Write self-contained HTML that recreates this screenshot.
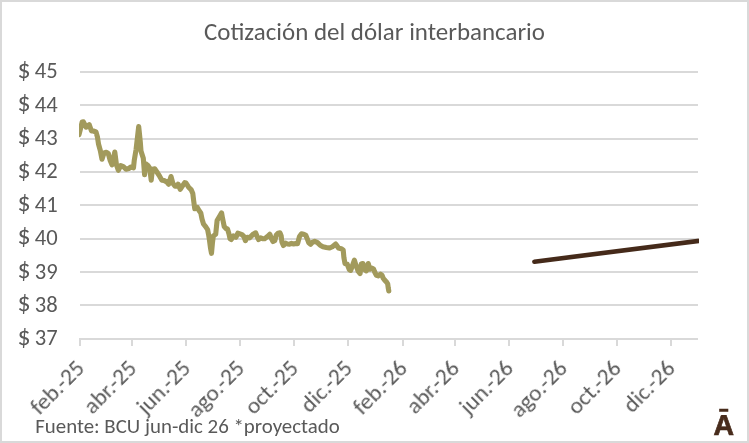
<!DOCTYPE html>
<html><head><meta charset="utf-8"><style>
html,body{margin:0;padding:0;background:#fff;}
body{width:749px;height:443px;overflow:hidden;}
svg{display:block;}
text{font-family:"Carlito","Liberation Sans",sans-serif;fill:#595959;}
text{will-change:transform;}
</style></head><body>
<svg width="749" height="443" viewBox="0 0 749 443">
<rect x="0" y="0" width="749" height="443" fill="#fff"/>
<rect x="1" y="1" width="747" height="441" fill="none" stroke="#d9d9d9" stroke-width="2"/>
<text x="204" y="39.5" font-size="25" textLength="341" lengthAdjust="spacingAndGlyphs">Cotización del dólar interbancario</text>
<g stroke="#d9d9d9" stroke-width="2" fill="none">
<line x1="80" y1="72" x2="698" y2="72"/><line x1="80" y1="105" x2="698" y2="105"/><line x1="80" y1="139" x2="698" y2="139"/><line x1="80" y1="172" x2="698" y2="172"/><line x1="80" y1="205" x2="698" y2="205"/><line x1="80" y1="239" x2="698" y2="239"/><line x1="80" y1="272" x2="698" y2="272"/><line x1="80" y1="305" x2="698" y2="305"/>
<path d="M80 346 V339 H698"/>
<line x1="80" y1="339" x2="80" y2="346"/><line x1="132" y1="339" x2="132" y2="346"/><line x1="186" y1="339" x2="186" y2="346"/><line x1="240" y1="339" x2="240" y2="346"/><line x1="294" y1="339" x2="294" y2="346"/><line x1="348" y1="339" x2="348" y2="346"/><line x1="403" y1="339" x2="403" y2="346"/><line x1="455" y1="339" x2="455" y2="346"/><line x1="509" y1="339" x2="509" y2="346"/><line x1="563" y1="339" x2="563" y2="346"/><line x1="617" y1="339" x2="617" y2="346"/><line x1="671" y1="339" x2="671" y2="346"/>
</g>
<g font-size="22.6">
<text><tspan x="17.5" y="77.60" font-size="25.8">$</tspan><tspan x="57.6" y="78.30" text-anchor="end" textLength="28.02" lengthAdjust="spacingAndGlyphs"> 45</tspan></text><text><tspan x="17.5" y="110.97" font-size="25.8">$</tspan><tspan x="57.6" y="111.67" text-anchor="end" textLength="28.02" lengthAdjust="spacingAndGlyphs"> 44</tspan></text><text><tspan x="17.5" y="144.35" font-size="25.8">$</tspan><tspan x="57.6" y="145.05" text-anchor="end" textLength="28.02" lengthAdjust="spacingAndGlyphs"> 43</tspan></text><text><tspan x="17.5" y="177.73" font-size="25.8">$</tspan><tspan x="57.6" y="178.43" text-anchor="end" textLength="28.02" lengthAdjust="spacingAndGlyphs"> 42</tspan></text><text><tspan x="17.5" y="211.10" font-size="25.8">$</tspan><tspan x="57.6" y="211.80" text-anchor="end" textLength="28.02" lengthAdjust="spacingAndGlyphs"> 41</tspan></text><text><tspan x="17.5" y="244.48" font-size="25.8">$</tspan><tspan x="57.6" y="245.18" text-anchor="end" textLength="28.02" lengthAdjust="spacingAndGlyphs"> 40</tspan></text><text><tspan x="17.5" y="277.85" font-size="25.8">$</tspan><tspan x="57.6" y="278.55" text-anchor="end" textLength="28.02" lengthAdjust="spacingAndGlyphs"> 39</tspan></text><text><tspan x="17.5" y="311.23" font-size="25.8">$</tspan><tspan x="57.6" y="311.93" text-anchor="end" textLength="28.02" lengthAdjust="spacingAndGlyphs"> 38</tspan></text><text><tspan x="17.5" y="344.60" font-size="25.8">$</tspan><tspan x="57.6" y="345.30" text-anchor="end" textLength="28.02" lengthAdjust="spacingAndGlyphs"> 37</tspan></text>
</g>
<g font-size="23.2">
<text transform="translate(85.70,369.60) rotate(-45)" text-anchor="end" textLength="65.41" lengthAdjust="spacingAndGlyphs">feb.-25</text><text transform="translate(137.86,369.60) rotate(-45)" text-anchor="end" textLength="64.22" lengthAdjust="spacingAndGlyphs">abr.-25</text><text transform="translate(191.79,369.60) rotate(-45)" text-anchor="end" textLength="65.09" lengthAdjust="spacingAndGlyphs">jun.-25</text><text transform="translate(245.73,369.60) rotate(-45)" text-anchor="end" textLength="69.28" lengthAdjust="spacingAndGlyphs">ago.-25</text><text transform="translate(299.66,369.60) rotate(-45)" text-anchor="end" textLength="64.98" lengthAdjust="spacingAndGlyphs">oct.-25</text><text transform="translate(353.59,369.60) rotate(-45)" text-anchor="end" textLength="62.5" lengthAdjust="spacingAndGlyphs">dic.-25</text><text transform="translate(408.40,369.60) rotate(-45)" text-anchor="end" textLength="65.41" lengthAdjust="spacingAndGlyphs">feb.-26</text><text transform="translate(460.57,369.60) rotate(-45)" text-anchor="end" textLength="64.22" lengthAdjust="spacingAndGlyphs">abr.-26</text><text transform="translate(514.50,369.60) rotate(-45)" text-anchor="end" textLength="65.09" lengthAdjust="spacingAndGlyphs">jun.-26</text><text transform="translate(568.43,369.60) rotate(-45)" text-anchor="end" textLength="69.28" lengthAdjust="spacingAndGlyphs">ago.-26</text><text transform="translate(622.36,369.60) rotate(-45)" text-anchor="end" textLength="64.98" lengthAdjust="spacingAndGlyphs">oct.-26</text><text transform="translate(676.29,369.60) rotate(-45)" text-anchor="end" textLength="62.5" lengthAdjust="spacingAndGlyphs">dic.-26</text>
</g>
<defs><clipPath id="pa"><rect x="79" y="60" width="620" height="290"/></clipPath></defs>
<g clip-path="url(#pa)" fill="none" stroke-linejoin="round" stroke-linecap="round">
<polyline points="79.0,134.6 82.2,122 83.4,121.8 86.1,127.2 89.2,124.6 91.5,131 93.3,131 96,132 97.5,137.3 98.5,144 100.3,150.5 102,159.2 104,153 106.5,152.2 108.3,153.5 110.2,160.5 112,164.8 113.6,158 114.8,152 116.5,165 118.3,170.3 120.8,165.5 123.3,166.5 126,169.3 128.7,168.5 131,167 133.5,167.8 134.3,160.1 136.1,149.3 138.7,126.6 140.3,142 141,151.1 143.3,158.3 144.6,174.8 145.7,163.7 147.9,165.5 149.7,168.2 151.2,180.3 152.4,169.2 154.7,168.8 156.9,172 159.6,176.2 161.9,180.2 164.1,180.5 166.8,182 168.6,184.3 171,176.5 172.8,183.2 175.1,186.3 177.1,186.3 178.2,184.2 180.2,189.3 182.2,186.3 184.7,182.6 186,183 188.6,187.2 191.3,189.9 192.8,193.5 193.7,201 194.8,208.8 197.3,207.5 199,210.5 200.8,213 202,219 203.5,224 205.8,226.9 207.6,229.6 208.5,234.2 209.4,239.6 210.6,248.6 211.5,253.3 212.4,243.2 213.3,236 215.7,234.2 217.1,220.5 218.6,217.9 220.2,215.2 221.6,212.9 222.4,217.6 224.2,226.5 226,228.5 227.5,229 229,234 230,238.6 231.2,239.5 233.5,236 235.9,237.3 237.9,233.2 240,233.9 242,234.6 244,236.6 245.4,240.7 247.4,237.3 249.5,237.9 251.5,235.9 253.5,233.9 255.6,232.8 257,236.3 258.6,239.5 260.6,237.8 262.6,238.6 264.6,238.8 267.5,236.5 269.8,234.2 271.4,238.5 273,241.5 274.8,240.5 276.3,235 278,233.2 280,232.8 281.2,236 281.9,242 283.4,245.5 285.5,243.2 287.5,244 289.5,244.2 291.5,243.4 293.6,244 295.6,243.6 297.6,243.6 299.5,236.5 301.5,233.8 303.7,234.2 305.8,235.3 307.3,238.9 308.8,242.9 310.6,244.4 312.4,242.4 314.7,241.3 317.5,242.6 320.2,245.3 322.9,246.7 326.3,247.4 329.6,248 332.4,246.7 335.7,244 338.5,248 341.2,248.7 343.2,250.1 343.9,257.5 345,263.6 347.3,264.3 349.3,269.7 350.7,270.4 352.7,265 354.4,260.2 356.1,265.7 358.1,271.1 360.1,273.5 361.3,264 362.9,263.5 364.6,269.7 366.3,270.9 368.3,263.5 369.7,269.2 371.9,268 373.6,269.2 374.7,272 376.4,275.4 378.1,275.9 380.4,274.2 382.1,275.4 383.2,278.2 384.9,280.4 386.6,282.1 387.7,283.8 388.3,288.3 388.8,291" stroke="#a29a5c" stroke-width="5.1"/>
<line x1="534.4" y1="261.7" x2="720" y2="238.2" stroke="#452a1a" stroke-width="4.6"/>
</g>
<text x="35.2" y="433" font-size="20.8" textLength="304.6" lengthAdjust="spacingAndGlyphs">Fuente: BCU jun-dic 26 *proyectado</text>
<defs><clipPath id="lgA"><rect x="700" y="415" width="45" height="28"/></clipPath><clipPath id="lgM"><rect x="700" y="400" width="45" height="11.5"/></clipPath></defs>
<g font-size="29" text-anchor="middle" style="font-weight:700;fill:#482c1c;stroke:#482c1c;stroke-width:0.7px">
<g clip-path="url(#lgA)"><text transform="translate(723.65,435.4) scale(0.98,1)" style="font-family:'Liberation Sans',sans-serif;fill:#482c1c">Ā</text></g>
<g clip-path="url(#lgM)"><text transform="translate(723.65,434.0) scale(0.98,1)" style="font-family:'Liberation Sans',sans-serif;fill:#482c1c;stroke-width:0.6px" aria-hidden="true">Ā</text></g>
</g>
</svg>
</body></html>
